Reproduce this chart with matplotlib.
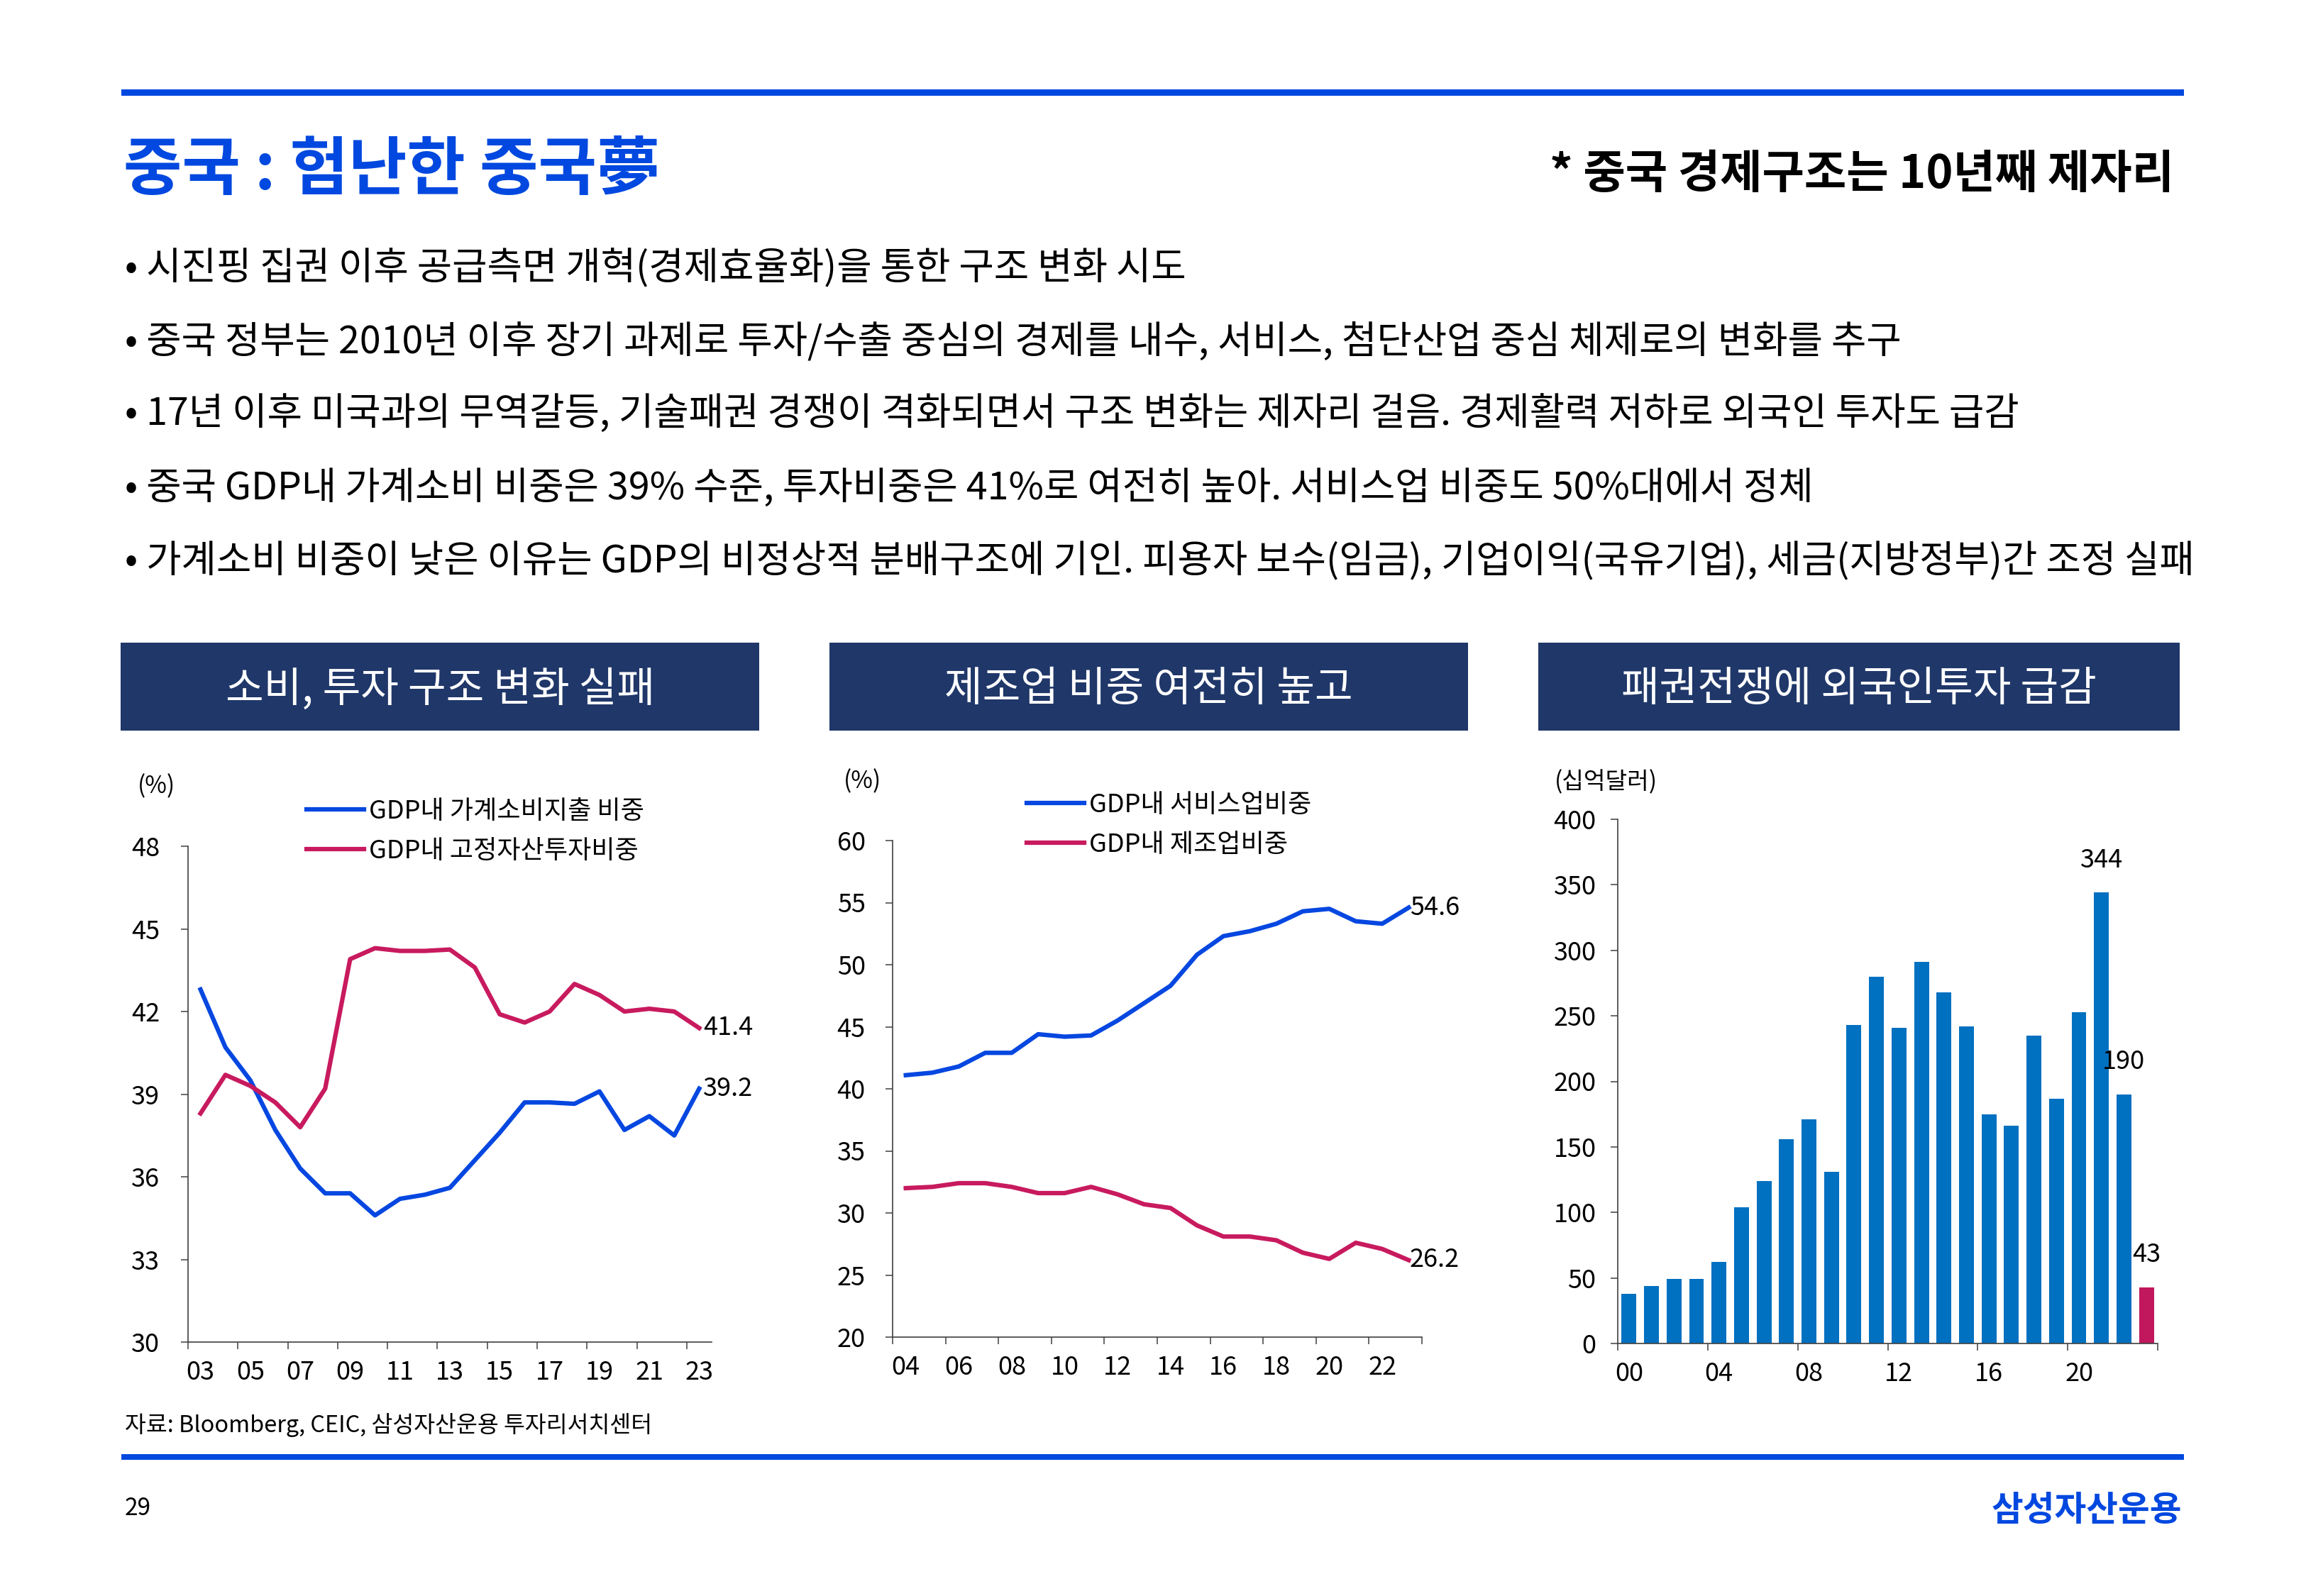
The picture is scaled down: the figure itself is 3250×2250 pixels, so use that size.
import matplotlib
matplotlib.use("Agg")
import matplotlib.pyplot as plt
from matplotlib.patches import Rectangle
import numpy as np

plt.rcParams['font.family'] = ['Noto Sans CJK KR', 'DejaVu Sans']

W, H = 3250, 2250

BLUE_LINE = '#0547E0'
RED_LINE = '#C81A5E'
BAR_BLUE = '#0070C0'
BAR_RED = '#C0175D'
TITLE_BLUE = '#0048DF'
NAVY = '#203769'
AXIS_C = '#404040'

# chart 1: GDP share, consumption vs fixed investment (2003-2023)
years1 = list(range(2003, 2024))
consumption = [42.8, 40.7, 39.5, 37.7, 36.3, 35.4, 35.4, 34.6, 35.2, 35.35, 35.6,
               36.6, 37.6, 38.7, 38.7, 38.65, 39.1, 37.7, 38.2, 37.5, 39.2]
investment = [38.3, 39.7, 39.3, 38.7, 37.8, 39.2, 43.9, 44.3, 44.2, 44.2, 44.25,
              43.6, 41.9, 41.6, 42.0, 43.0, 42.6, 42.0, 42.1, 42.0, 41.4]

# chart 2: services vs manufacturing share (2004-2023)
years2 = list(range(2004, 2024))
services = [41.1, 41.3, 41.8, 42.9, 42.9, 44.4, 44.2, 44.3, 45.5, 46.9,
            48.3, 50.8, 52.3, 52.7, 53.3, 54.3, 54.5, 53.5, 53.3, 54.6]
manufacturing = [32.0, 32.1, 32.4, 32.4, 32.1, 31.6, 31.6, 32.1, 31.5, 30.7,
                 30.4, 29.0, 28.1, 28.1, 27.8, 26.8, 26.3, 27.6, 27.1, 26.2]

# chart 3: foreign direct investment, bn USD (2000-2023)
years3 = list(range(2000, 2024))
fdi = [38, 44, 49, 49, 62, 104, 124, 156, 171, 131, 243, 280, 241, 291, 268, 242,
       175, 166, 235, 187, 253, 344, 190, 43]
fdi_labels = {2021: '344', 2022: '190', 2023: '43'}

headers = ['소비, 투자 구조 변화 실패', '제조업 비중 여전히 높고', '패권전쟁에 외국인투자 급감']
bullets = [
    '• 시진핑 집권 이후 공급측면 개혁(경제효율화)을 통한 구조 변화 시도',
    '• 중국 정부는 2010년 이후 장기 과제로 투자/수출 중심의 경제를 내수, 서비스, 첨단산업 중심 체제로의 변화를 추구',
    '• 17년 이후 미국과의 무역갈등, 기술패권 경쟁이 격화되면서 구조 변화는 제자리 걸음. 경제활력 저하로 외국인 투자도 급감',
    '• 중국 GDP내 가계소비 비중은 39% 수준, 투자비중은 41%로 여전히 높아. 서비스업 비중도 50%대에서 정체',
    '• 가계소비 비중이 낮은 이유는 GDP의 비정상적 분배구조에 기인. 피용자 보수(임금), 기업이익(국유기업), 세금(지방정부)간 조정 실패',
]

fig = plt.figure(figsize=(W / 100, H / 100), dpi=100)
fig.patch.set_facecolor('white')


def ftext(x, y, s, **kw):
    fig.text(x / W, 1 - y / H, s, **kw)


def frect(l, t, r, b, color):
    fig.add_artist(Rectangle((l / W, 1 - b / H), (r - l) / W, (b - t) / H,
                             transform=fig.transFigure, facecolor=color,
                             edgecolor='none'))


def add_ax(l, t, r, b):
    return fig.add_axes([l / W, 1 - b / H, (r - l) / W, (b - t) / H])


def style(ax, n, step, labels, ypad):
    for s in ['top', 'right']:
        ax.spines[s].set_visible(False)
    for s in ['left', 'bottom']:
        ax.spines[s].set_color(AXIS_C)
        ax.spines[s].set_linewidth(1.2)
    ax.set_xlim(-0.5, n - 0.5)
    ax.set_xticks(np.arange(-0.5, n - 0.4, step))
    ax.set_xticklabels([])
    ax.set_xticks(np.arange(0, n, step), minor=True)
    ax.set_xticklabels(labels, minor=True)
    ax.tick_params(axis='x', which='major', length=7.5, width=1.1, color=AXIS_C)
    ax.tick_params(axis='x', which='minor', length=0, pad=18, labelsize=26)
    ax.tick_params(axis='y', length=7.5, width=1.1, color=AXIS_C,
                   labelsize=26, pad=ypad)
    ax.set_facecolor('none')


# top / bottom rules and titles
frect(171, 126, 3078, 135, TITLE_BLUE)
frect(171, 2050, 3078, 2058, TITLE_BLUE)
ftext(174, 240, '중국 : 험난한 중국夢', fontsize=64.5, fontweight='bold',
      color=TITLE_BLUE, va='center', ha='left')
ftext(3064, 246, '* 중국 경제구조는 10년째 제자리', fontsize=46.5, fontweight='bold',
      color='black', va='center', ha='right')

for i, b in enumerate(bullets):
    ftext(176, [379, 483, 584, 688, 792][i], b, fontsize=38.7, va='center', ha='left')

# header boxes
boxes = [(170, 1070), (1169, 2069), (2168, 3072)]
for (l, r), h in zip(boxes, headers):
    frect(l, 906, r, 1030, NAVY)
    ftext((l + r) / 2, 972, h, fontsize=42, color='white', va='center', ha='center')

# chart 1
ax1 = add_ax(265, 1193, 1003, 1892)
x1 = np.arange(len(years1))
ax1.plot(x1, consumption, color=BLUE_LINE, lw=4.5, label='GDP내 가계소비지출 비중')
ax1.plot(x1, investment, color=RED_LINE, lw=4.5, label='GDP내 고정자산투자비중')
ax1.set_ylim(30, 48)
ax1.set_yticks(np.arange(30, 49, 3))
style(ax1, len(years1), 2, [f'{y % 100:02d}' for y in years1[::2]], 21)
ax1.annotate(f'{investment[-1]}', xy=(x1[-1], investment[-1]), xytext=(4, 0),
             textcoords='offset points', ha='left', va='center', fontsize=26)
ax1.annotate(f'{consumption[-1]}', xy=(x1[-1], consumption[-1]), xytext=(4, 0),
             textcoords='offset points', ha='left', va='center', fontsize=26)
ax1.legend(loc='upper left', bbox_to_anchor=(432 / W, 1 - 1126 / H),
           bbox_transform=fig.transFigure, frameon=False, fontsize=26,
           borderpad=0, borderaxespad=0, handlelength=2.25, handletextpad=0.18,
           labelspacing=0.55)
ftext(194, 1109, '(%)', fontsize=24, va='center', ha='left')

# chart 2
ax2 = add_ax(1258, 1185, 2004, 1885)
x2 = np.arange(len(years2))
ax2.plot(x2, services, color=BLUE_LINE, lw=4.5, label='GDP내 서비스업비중')
ax2.plot(x2, manufacturing, color=RED_LINE, lw=4.5, label='GDP내 제조업비중')
ax2.set_ylim(20, 60)
ax2.set_yticks(np.arange(20, 61, 5))
style(ax2, len(years2), 2, [f'{y % 100:02d}' for y in years2[::2]], 20)
ax2.annotate(f'{services[-1]}', xy=(x2[-1], services[-1]), xytext=(1, 0),
             textcoords='offset points', ha='left', va='center', fontsize=26)
ax2.annotate(f'{manufacturing[-1]}', xy=(x2[-1], manufacturing[-1]), xytext=(1, 0),
             textcoords='offset points', ha='left', va='center', fontsize=26)
ax2.legend(loc='upper left', bbox_to_anchor=(1447 / W, 1 - 1117 / H),
           bbox_transform=fig.transFigure, frameon=False, fontsize=26,
           borderpad=0, borderaxespad=0, handlelength=2.25, handletextpad=0.18,
           labelspacing=0.55)
ftext(1189, 1102, '(%)', fontsize=24, va='center', ha='left')

# chart 3
ax3 = add_ax(2280, 1155, 3041, 1894)
x3 = np.arange(len(years3))
colors = [BAR_RED if y == 2023 else BAR_BLUE for y in years3]
ax3.bar(x3, fdi, width=0.66, color=colors)
ax3.set_ylim(0, 400)
ax3.set_yticks(np.arange(0, 401, 50))
style(ax3, len(years3), 4, [f'{y % 100:02d}' for y in years3[::4]], 14.5)
for i, y in enumerate(years3):
    if y in fdi_labels:
        ax3.annotate(fdi_labels[y], xy=(x3[i], fdi[i]), xytext=(0, 33),
                     textcoords='offset points', ha='center', va='center',
                     fontsize=26)
ftext(2191, 1103, '(십억달러)', fontsize=24, va='center', ha='left')

# footer
ftext(176, 2009, '자료: Bloomberg, CEIC, 삼성자산운용 투자리서치센터', fontsize=23.4,
      va='center', ha='left')
ftext(176, 2127, '29', fontsize=24, va='center', ha='left')
ftext(3075, 2130, '삼성자산운용', fontsize=35, fontweight='bold', color=TITLE_BLUE,
      va='center', ha='right')

fig.savefig('out.png', dpi=100, facecolor='white')
